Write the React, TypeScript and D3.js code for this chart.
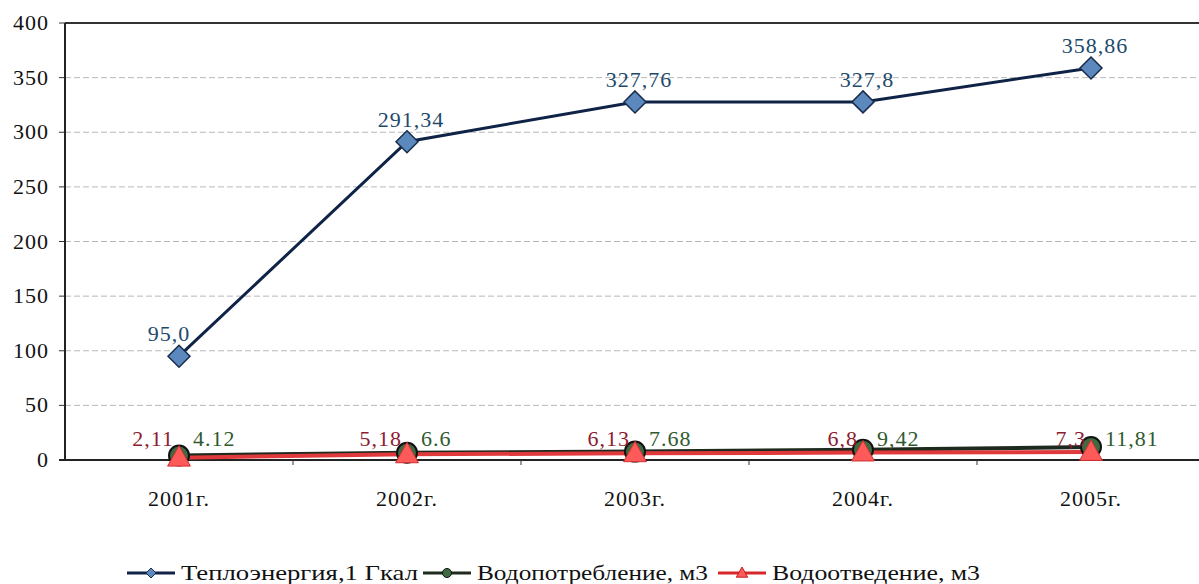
import React from 'react';
import * as d3 from 'd3';

const years = ['2001г.', '2002г.', '2003г.', '2004г.', '2005г.'];
const heat = [95.0, 291.34, 327.76, 327.8, 358.86];
const heatLabels = ['95,0', '291,34', '327,76', '327,8', '358,86'];
const waterIn = [4.12, 6.6, 7.68, 9.42, 11.81];
const waterInLabels = ['4.12', '6.6', '7.68', '9,42', '11,81'];
const waterOut = [2.11, 5.18, 6.13, 6.8, 7.3];
const waterOutLabels = ['2,11', '5,18', '6,13', '6,8', '7,3'];
const yTicks = [0, 50, 100, 150, 200, 250, 300, 350, 400];
const legendNames = ['Теплоэнергия,1 Гкал', 'Водопотребление, м3', 'Водоотведение, м3'];

const W = 1199;
const H = 584;
const left = 65;
const right = 1205;
const top = 23;
const bottom = 460;
const font = "'Liberation Serif', 'Times New Roman', Times, serif";

export default function App() {
  const x = d3.scaleBand<string>().domain(years).range([left, right]);
  const cx = (i: number) => (x(years[i]) as number) + x.bandwidth() / 2;
  const y = d3.scaleLinear().domain([0, 400]).range([bottom, top]);

  const line = d3
    .line<number>()
    .x((_, i) => cx(i))
    .y((d) => y(d));

  const diamond = (px: number, py: number, r: number) =>
    `M${px},${py - r}L${px + r},${py}L${px},${py + r}L${px - r},${py}Z`;
  const triangle = (px: number, py: number, s: number) =>
    `M${px},${py - s}L${px + s * 0.95},${py + s * 0.7}L${px - s * 0.95},${py + s * 0.7}Z`;

  const legendX = [127, 423, 718];
  const legendTextLen = [237, 231, 208];

  return (
    <svg
      width={W}
      height={H}
      style={{ position: 'absolute', left: 0, top: 0, background: '#fff', fontFamily: font }}
    >
      {/* grid */}
      {yTicks.map((t) => (
        <g key={t}>
          {t > 0 && t < 400 && (
            <line
              x1={left}
              x2={W}
              y1={y(t)}
              y2={y(t)}
              stroke="#b8b8b8"
              strokeWidth={1}
              strokeDasharray="6 3"
            />
          )}
          <line x1={left - 6} x2={left} y1={y(t)} y2={y(t)} stroke="#333" />
          <text
            x={49}
            y={y(t) + 7}
            textAnchor="end"
            fontSize={22}
            letterSpacing={1}
            fill="#111"
          >
            {t}
          </text>
        </g>
      ))}
      <line x1={left} x2={W} y1={y(400)} y2={y(400)} stroke="#333" strokeWidth={2} />
      <line x1={left} x2={left} y1={y(400)} y2={bottom} stroke="#222" strokeWidth={2} />
      <line x1={left - 6} x2={W} y1={bottom} y2={bottom} stroke="#222" strokeWidth={2} />
      {years.map((yr, i) =>
        i > 0 ? (
          <line
            key={'t' + yr}
            x1={x(yr) as number}
            x2={x(yr) as number}
            y1={bottom}
            y2={bottom + 5}
            stroke="#333"
          />
        ) : null
      )}
      {years.map((yr, i) => (
        <text
          key={yr}
          x={cx(i)}
          y={bottom + 46}
          textAnchor="middle"
          fontSize={22}
          letterSpacing={1}
          fill="#111"
        >
          {yr}
        </text>
      ))}

      {/* heat series */}
      <path d={line(heat) ?? ''} fill="none" stroke="#0f2346" strokeWidth={3} />
      {heat.map((v, i) => (
        <path
          key={'h' + i}
          d={diamond(cx(i), y(v), 11)}
          fill="#5b88bd"
          stroke="#1a2c4a"
          strokeWidth={1.5}
        />
      ))}
      {heat.map((v, i) => (
        <text
          key={'hl' + i}
          x={cx(i) + (i === 0 ? -10 : 4)}
          y={y(v) - 15}
          textAnchor="middle"
          fontSize={22}
          letterSpacing={1}
          fill="#1d4a6b"
        >
          {heatLabels[i]}
        </text>
      ))}

      {/* water consumption */}
      <path d={line(waterIn) ?? ''} fill="none" stroke="#1f2a1f" strokeWidth={4} />
      {/* water disposal */}
      <path d={line(waterOut) ?? ''} fill="none" stroke="#e0393c" strokeWidth={4} />
      {waterIn.map((v, i) => (
        <circle
          key={'g' + i}
          cx={cx(i)}
          cy={y(v)}
          r={10}
          fill="#3f6b42"
          stroke="#111"
          strokeWidth={2}
        />
      ))}
      {waterOut.map((v, i) => (
        <path
          key={'r' + i}
          d={triangle(cx(i), y(v), 12)}
          fill="#ff5a5a"
          stroke="#d03030"
          strokeWidth={1}
        />
      ))}
      {waterOut.map((v, i) => (
        <text
          key={'rl' + i}
          x={cx(i) - 5}
          y={bottom - 14}
          textAnchor="end"
          fontSize={22}
          letterSpacing={1}
          fill="#8c1c30"
        >
          {waterOutLabels[i]}
        </text>
      ))}
      {waterIn.map((v, i) => (
        <text
          key={'gl' + i}
          x={cx(i) + 14}
          y={bottom - 14}
          textAnchor="start"
          fontSize={22}
          letterSpacing={1}
          fill="#2f5a2f"
        >
          {waterInLabels[i]}
        </text>
      ))}

      {/* legend */}
      {legendNames.map((name, k) => {
        const lx = legendX[k];
        const ly = 573;
        const mid = lx + 24;
        return (
          <g key={name}>
            <line
              x1={lx}
              x2={lx + 48}
              y1={ly}
              y2={ly}
              stroke={k === 0 ? '#0f2346' : k === 1 ? '#1f2a1f' : '#d6282b'}
              strokeWidth={3}
            />
            {k === 0 && (
              <path d={diamond(mid, ly, 5)} fill="#5b88bd" stroke="#1a2c4a" strokeWidth={1} />
            )}
            {k === 1 && <circle cx={mid} cy={ly} r={4.5} fill="#3f6b42" stroke="#111" strokeWidth={1} />}
            {k === 2 && <path d={triangle(mid, ly, 6)} fill="#ff5a5a" stroke="#c02020" strokeWidth={1} />}
            <text
              x={lx + 54}
              y={ly + 7}
              fontSize={22}
              textLength={legendTextLen[k]}
              lengthAdjust="spacingAndGlyphs"
              fill="#111"
            >
              {name}
            </text>
          </g>
        );
      })}
    </svg>
  );
}
